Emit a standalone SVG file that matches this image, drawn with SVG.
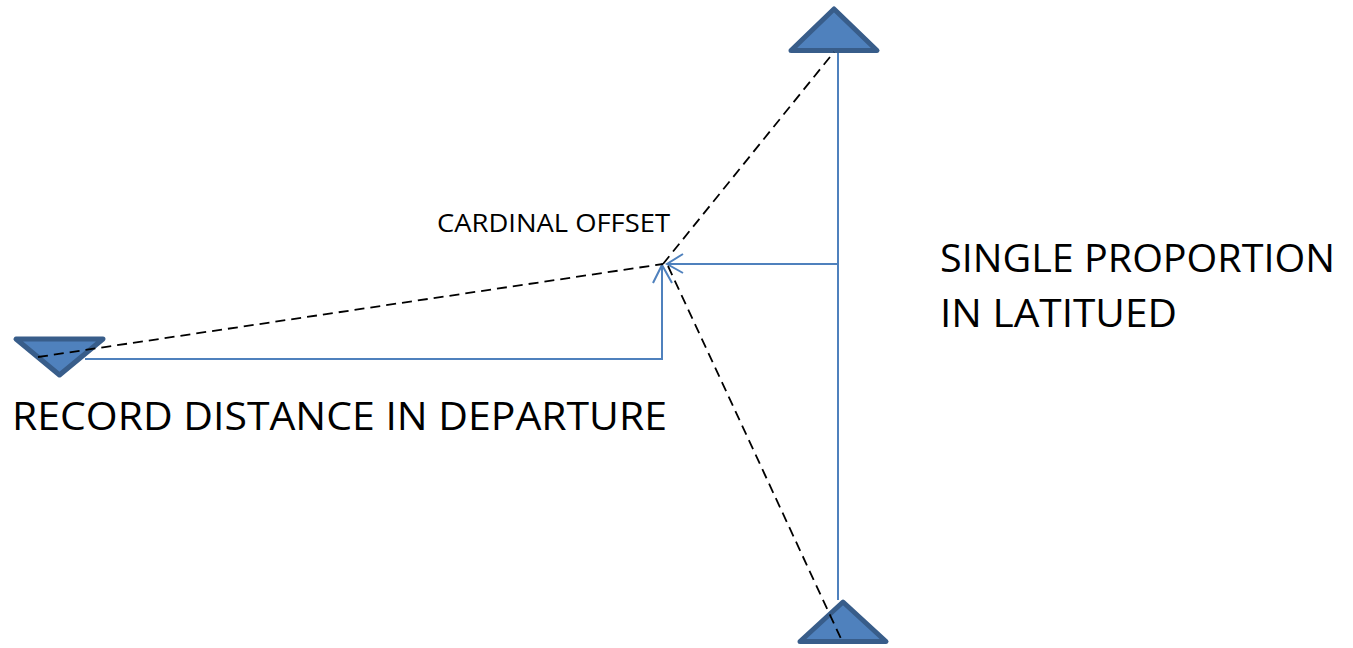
<svg xmlns="http://www.w3.org/2000/svg" width="1353" height="648" viewBox="0 0 1353 648">
<style>
.tri{fill:#4F81BD;stroke:#385D8A;stroke-width:5;stroke-linejoin:round}
.conn{fill:none;stroke:#4F81BD;stroke-width:2}
.dash{fill:none;stroke:#000;stroke-width:1.8;stroke-dasharray:10,6}
.lbl{font-family:"Open Sans","Liberation Sans",sans-serif;fill:#000}
</style>
<rect width="1353" height="648" fill="#fff"/>
<g id="top-triangle"><path class="tri" d="M834,9 L877,50.5 L791,50.5 Z"/></g>
<g id="bottom-triangle"><path class="tri" d="M843,602 L886,641.5 L800,641.5 Z"/></g>
<g id="left-triangle"><path class="tri" d="M16,339 L103,339 L59.5,375 Z"/></g>
<g id="connectors">
<line class="conn" x1="838" y1="53" x2="838" y2="600"/>
<line class="conn" x1="838" y1="264" x2="668" y2="264"/>
<polyline class="conn" points="683,254 667,264 683,273"/>
<polyline class="conn" points="85,359 662,359 662,266"/>
<polyline class="conn" points="653,283 662,265 672,283"/>
<line class="dash" x1="38" y1="357" x2="663" y2="264"/>
<line class="dash" x1="663" y1="264" x2="834" y2="52"/>
<line class="dash" x1="668" y1="266" x2="843" y2="643"/>
</g>
<g id="label-cardinal"><text class="lbl" x="437" y="232" font-size="26" textLength="233" lengthAdjust="spacingAndGlyphs">CARDINAL OFFSET</text></g>
<g id="label-single">
<text class="lbl" x="940" y="272" font-size="39" textLength="395" lengthAdjust="spacingAndGlyphs">SINGLE PROPORTION</text>
<text class="lbl" x="940" y="327" font-size="39" textLength="237" lengthAdjust="spacingAndGlyphs">IN LATITUED</text>
</g>
<g id="label-record"><text class="lbl" x="12" y="430" font-size="39" textLength="655" lengthAdjust="spacingAndGlyphs">RECORD DISTANCE IN DEPARTURE</text></g>
</svg>
